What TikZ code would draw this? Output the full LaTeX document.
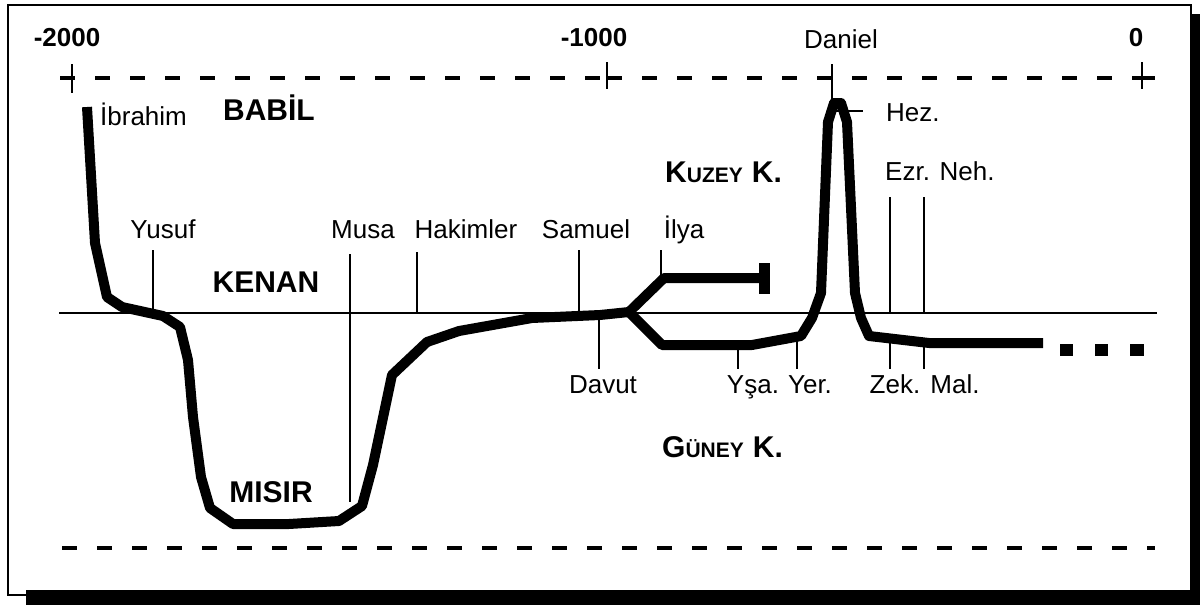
\documentclass[tikz,border=0pt]{standalone}
\usepackage{fontspec}
\setmainfont{Liberation Sans}
\begin{document}
\begin{tikzpicture}[x=1pt,y=-1pt]
\tikzset{
 rg/.style={font=\fontsize{26}{26}\selectfont, inner sep=0pt},
 bd/.style={font=\bfseries\fontsize{30}{30}\selectfont, inner sep=0pt},
 nm/.style={font=\bfseries\fontsize{26}{26}\selectfont, inner sep=0pt},
 tk/.style={line width=2.2pt},
 hist/.style={line width=10pt, line join=round},
 dsh/.style={line width=4pt, dash pattern=on 15pt off 20pt},
 axisline/.style={line width=2.6pt}
}
\useasboundingbox (0,0) rectangle (1200,605);
% frame and shadow
\draw[line width=2pt, fill=white] (8,5) rectangle (1191,595);
\fill (26,590) rectangle (1200,605);
\fill (1190,14) rectangle (1200,605);

% top time axis
\draw[dsh] (60,78) -- (607,78);
\draw[dsh] (607,78) -- (1142,78);
\draw[line width=4pt] (1142,78) -- (1155,78);
\draw[tk] (72,64) -- (72,93);
\draw[tk] (607,62) -- (607,89);
\draw[tk] (832,64) -- (832,104);
\draw[tk] (1142,62) -- (1142,89);
% bottom dashed line
\draw[dsh] (62,548) -- (1155,548);
% center line
\draw[axisline] (59,313) -- (1157,313);

% ticks
\draw[tk] (153,250) -- (153,313);
\draw[tk] (350,254) -- (350,502);
\draw[tk] (417,252) -- (417,313);
\draw[tk] (579,250) -- (579,313);
\draw[tk] (661,250) -- (661,282);
\draw[tk] (599,313) -- (599,369);
\draw[tk] (738,345) -- (738,369);
\draw[tk] (797,337) -- (797,369);
\draw[tk] (890,342) -- (890,369);
\draw[tk] (924,344) -- (924,369);
\draw[tk] (890,197) -- (890,313);
\draw[tk] (924,197) -- (924,313);
\draw[tk] (836,111) -- (863,111);

% history line
\coordinate (split) at (629,312);
\draw[hist] (87,107) -- (95,243) -- (107,297) -- (122,307) -- (163,316) -- (180,327)
  -- (188,360) -- (193,417) -- (201,477) -- (210,508) -- (233,524) -- (289,524)
  -- (339,521) -- (362,506) -- (373,465) -- (392,375) -- (427,342) -- (459,331)
  -- (532,318) -- (600,315) -- (split);
\draw[hist] (split) -- (662,345) -- (752,345) -- (801,336) -- (812,318) -- (821,293)
  -- (828,122) -- (834,103) -- (841,103) -- (847,122) -- (855,293) -- (861,318) -- (869,336)
  -- (929,343) -- (1043,343);
\draw[hist] (split) -- (664,278) -- (762,278);
\fill (759,263) rectangle (770,294);
\fill (1060,344) rectangle (1073,356);
\fill (1095,344) rectangle (1108,356);
\fill (1130,344) rectangle (1144,356);

% labels
\node[nm, anchor=base] (y2000) at (67,46) {-2000};
\node[nm, anchor=base] (y1000) at (594,46) {-1000};
\node[nm, anchor=base] (y0) at (1136,46) {0};
\node[rg, anchor=base] (dan) at (841,48) {Daniel};
\node[rg, anchor=base west] (ibr) at (100,125) {İbrahim};
\node[bd, anchor=base] (babil) at (269,120) {BABİL};
\node[rg, anchor=base west] (hez) at (886,121) {Hez.};
\node[bd, anchor=base west] (kuzey) at (665,182) {K{\fontsize{21}{21}\selectfont UZEY}\hspace{9pt}K.};
\node[rg, anchor=base west] (ezr) at (885,180) {Ezr. Neh.};
\node[rg, anchor=base] (yus) at (163,238) {Yusuf};
\node[rg, anchor=base] (musa) at (363,238) {Musa};
\node[rg, anchor=base] (hak) at (466,238) {Hakimler};
\node[rg, anchor=base] (sam) at (586,238) {Samuel};
\node[rg, anchor=base] (ilya) at (684,238) {İlya};
\node[bd, anchor=base] (kenan) at (266,292) {KENAN};
\node[rg, anchor=base] (dav) at (603,393) {Davut};
\node[rg, anchor=base] (ysa) at (753,393) {Yşa.};
\node[rg, anchor=base] (yer) at (810,393) {Yer.};
\node[rg, anchor=base] (zek) at (895,393) {Zek.};
\node[rg, anchor=base] (mal) at (955,393) {Mal.};
\node[bd, anchor=base west] (guney) at (662,457) {G{\fontsize{21}{21}\selectfont ÜNEY}\hspace{9pt}K.};
\node[bd, anchor=base] (misir) at (271,502) {MISIR};
\end{tikzpicture}
\end{document}
